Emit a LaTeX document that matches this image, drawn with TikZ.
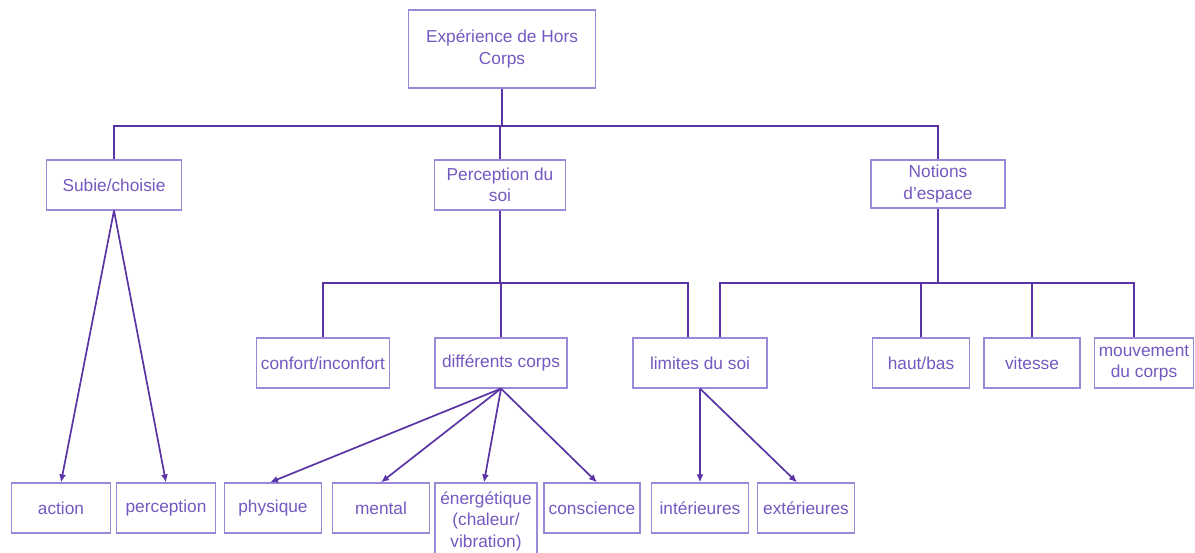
\documentclass[tikz,border=0pt]{standalone}
\usepackage{fontspec}
\setmainfont{Liberation Sans}
\usetikzlibrary{calc,arrows.meta}
\definecolor{boxc}{HTML}{9C88D8}
\definecolor{textc}{HTML}{7458C0}
\definecolor{linec}{HTML}{5A34A4}
\begin{document}
\begin{tikzpicture}[x=1pt,y=-1pt,
  box/.style={draw=boxc,line width=1.2pt,text=textc,align=center,inner sep=1pt,
    font=\fontsize{17.3}{21.5}\selectfont},
  conn/.style={draw=linec,line width=1.7pt},
  arr/.style={conn,-{Latex[length=8pt,width=7pt]}}]
\useasboundingbox (0,0) rectangle (1195,553);
% level 0
\node[box,minimum width=187pt,minimum height=78pt] (top) at (502,49) {Expérience de Hors\\Corps};
% level 1
\node[box,minimum width=135pt,minimum height=50pt] (subie) at (114,185) {Subie/choisie};
\node[box,minimum width=131pt,minimum height=50pt] (perc) at (500,185) {Perception du\\soi};
\node[box,minimum width=134pt,minimum height=48pt] (notions) at (938,184) {Notions\\d’espace};
% level 2
\node[box,minimum width=133pt,minimum height=50pt] (confort) at (323,363) {confort/inconfort};
\node[box,minimum width=132pt,minimum height=50pt] (diff) at (501,363) {différents corps};
\node[box,minimum width=134pt,minimum height=50pt] (limites) at (700,363) {limites du soi};
\node[box,minimum width=97pt,minimum height=50pt] (haut) at (921,363) {haut/bas};
\node[box,minimum width=96pt,minimum height=50pt] (vitesse) at (1032,363) {vitesse};
\node[box,minimum width=99pt,minimum height=50pt] (mouv) at (1144,363) {mouvement\\du corps};
% level 3
\node[box,minimum width=99pt,minimum height=50pt] (action) at (61,508) {action};
\node[box,minimum width=99pt,minimum height=50pt] (percep) at (166,508) {perception};
\node[box,minimum width=97pt,minimum height=50pt] (physique) at (273,508) {physique};
\node[box,minimum width=97pt,minimum height=50pt] (mental) at (381,508) {mental};
\node[box,minimum width=102pt,minimum height=76pt] (energ) at (486,521) {énergétique\\(chaleur/\\vibration)};
\node[box,minimum width=96pt,minimum height=50pt] (conscience) at (592,508) {conscience};
\node[box,minimum width=97pt,minimum height=50pt] (interieures) at (700,508) {intérieures};
\node[box,minimum width=97pt,minimum height=50pt] (exterieures) at (806,508) {extérieures};
% bus coordinates
\coordinate (bus1) at (502,126);
\coordinate (bus2) at (500,283);
\coordinate (limL) at ($(limites.north)+(-12,0)$);
\coordinate (limR) at ($(limites.north)+(20,0)$);
\coordinate (mouvT) at ($(mouv.north)+(-10,0)$);
% tree lines
\draw[conn] (top.south) -- (top.south |- bus1);
\draw[conn] (subie.north) |- (notions.north |- bus1) -- (notions.north);
\draw[conn] (perc.north) -- (perc.north |- bus1);
\draw[conn] (perc.south) -- (perc.south |- bus2);
\draw[conn] (confort.north) |- (limL |- bus2) -- (limL);
\draw[conn] (diff.north) -- (diff.north |- bus2);
\draw[conn] (notions.south) -- (notions.south |- bus2);
\draw[conn] (limR) |- (mouvT |- bus2) -- (mouvT);
\draw[conn] (haut.north) -- (haut.north |- bus2);
\draw[conn] (vitesse.north) -- (vitesse.north |- bus2);
% arrows
\draw[arr] (subie.south) -- (action.north);
\draw[arr] (subie.south) -- (percep.north);
\draw[arr] (diff.south) -- ($(physique.north)+(-3,0)$);
\draw[arr] (diff.south) -- (mental.north);
\draw[arr] (diff.south) -- ($(energ.north)+(-2,0)$);
\draw[arr] (diff.south) -- ($(conscience.north)+(5,0)$);
\draw[arr] (limites.south) -- (interieures.north);
\draw[arr] (limites.south) -- ($(exterieures.north)+(-9,0)$);
\end{tikzpicture}
\end{document}
